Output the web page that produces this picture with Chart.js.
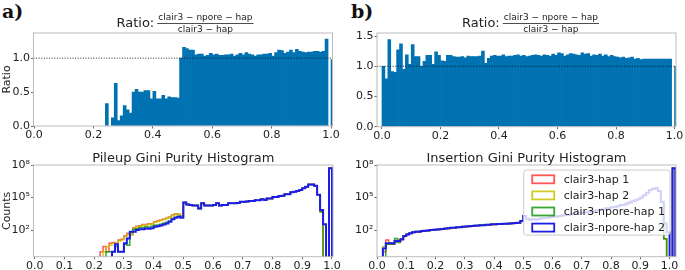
<!DOCTYPE html>
<html>
<head>
<meta charset="utf-8">
<script src="https://cdn.jsdelivr.net/npm/chart.js@4.4.1/dist/chart.umd.min.js"></script>
<style>
  html, body { margin: 0; padding: 0; background: #fff; }
  body { width: 685px; height: 270px; position: relative; overflow: hidden; }
  .panel { position: absolute; }
  .tag { position: absolute; font-family: 'DejaVu Serif', serif; font-weight: bold; font-size: 19px; color: #111; line-height: 1; }
</style>
</head>
<body>
<div class="tag" style="left:2px;top:2px">a)</div>
<div class="tag" style="left:351px;top:2px">b)</div>
<div class="panel" style="left:0;top:0;width:345px;height:140px"><canvas id="ratioA"></canvas></div>
<div class="panel" style="left:345px;top:0;width:340px;height:140px"><canvas id="ratioB"></canvas></div>
<div class="panel" style="left:0;top:140px;width:345px;height:130px"><canvas id="histA"></canvas></div>
<div class="panel" style="left:345px;top:140px;width:340px;height:130px"><canvas id="histB"></canvas></div>
<script>
// ---- data ----
const BIN_WIDTH = 0.01;
const RATIO_X_TICKS = [0, 0.2, 0.4, 0.6, 0.8, 1.0];
const HIST_X_TICKS = [0, 0.1, 0.2, 0.3, 0.4, 0.5, 0.6, 0.7, 0.8, 0.9, 1.0];
const RATIO_A_Y_TICKS = [0, 0.5, 1.0];
const RATIO_B_Y_TICKS = [0, 0.5, 1.0, 1.5];
const COUNT_TICKS = [1e2, 1e5, 1e8];
const REF_LEVEL = 1.0;
const SERIES_LABELS = ['clair3-hap 1', 'clair3-hap 2', 'clair3-npore-hap 1', 'clair3-npore-hap 2'];

// ratio clair3-npore-hap / clair3-hap, one value per 0.01 bin (0.00 .. 1.00)
const ratioPileup = [
  null, null, null, null, null, null, null, null, null, null,
  null, null, null, null, null, null, null, null, null, null,
  null, null, null, null,
  0.33, null, 0.12, 0.63, 0.08, 0.15, 0.30, 0.24, 0.19, 0.50,
  0.54, 0.50, 0.50, 0.52, 0.52, 0.40, 0.51, 0.40, 0.40, 0.45,
  0.40, 0.43, 0.42, 0.42, 0.41, 1.00, 1.16, 1.14, 1.12, 1.12,
  1.05, 1.06, 1.06, 1.03, 1.04, 1.07, 1.05, 1.06, 1.04, 1.04,
  1.05, 1.05, 1.06, 1.03, 1.05, 1.07, 1.05, 1.08, 1.06, 1.05,
  1.03, 1.05, 1.05, 1.06, 1.06, 1.07, 1.03, 1.08, 1.12, 1.11,
  1.07, 1.09, 1.12, 1.08, 1.13, 1.10, 1.09, 1.08, 1.09, 1.09,
  1.10, 1.10, 1.09, 1.10, 1.28, null, 0.98
];
const ratioInsertion = [
  1.00, 0.79, 1.44, 0.91, 0.90, 1.27, 1.37, 0.95, 1.19, 1.03,
  1.36, 1.16, 1.16, 1.00, 1.08, 1.18, 1.18, 1.03, 1.24, 1.18,
  1.09, 1.08, 1.18, 1.18, 1.16, 1.15, 1.15, 1.16, 1.14, 1.17,
  1.16, 1.16, 1.16, 1.17, 1.25, 1.05, 1.13, 1.17, 1.18, 1.17,
  1.17, 1.19, 1.16, 1.17, 1.17, 1.18, 1.19, 1.17, 1.18, 1.16,
  1.17, 1.18, 1.19, 1.18, 1.17, 1.19, 1.18, 1.17, 1.20, 1.18,
  1.22, 1.21, 1.17, 1.19, 1.21, 1.20, 1.19, 1.18, 1.22, 1.20,
  1.21, 1.17, 1.19, 1.18, 1.20, 1.17, 1.19, 1.16, 1.18, 1.16,
  1.15, 1.14, 1.15, 1.13, 1.14, 1.15, 1.12, 1.13, 1.11, 1.12,
  1.12, 1.12, 1.12, 1.12, 1.12, 1.12, 1.12, 1.12, 1.12, null,
  1.00
];

// pileup gini purity counts, bins 0.00 .. 0.99
const pileupLowHap1 = [
  0, 0, 0, 0, 0, 0, 0, 0, 0, 0, 0, 0, 0, 0, 0, 0, 0, 0, 0, 0, 0, 0,
  1, 3, 1, 6, 7, 6, 12, 14, 30, 50, 40, 160, 220, 250, 330, 330, 380, 380,
  590, 680, 830, 1000, 1200, 1600, 2400, 3200, 2800, 2100
];
const pileupLowHap2 = [
  0, 0, 0, 0, 0, 0, 0, 0, 0, 0, 0, 0, 0, 0, 0, 0, 0, 0, 0, 0, 0, 0, 0,
  1, 3, 4, 6, 5, 10, 12, 25, 40, 35, 140, 200, 230, 300, 300, 350, 360,
  550, 620, 780, 950, 1150, 1500, 2200, 3000, 2700, 2000
];
const pileupLowNpore1 = [
  0, 0, 0, 0, 0, 0, 0, 0, 0, 0, 0, 0, 0, 0, 0, 0, 0, 0, 0, 0, 0, 0, 0, 0,
  1, 1, 1, 3, 1, 1, 5, 4, 60, 110, 130, 160, 170, 200, 190, 220,
  280, 300, 350, 420, 520, 700, 1100, 1500, 1900, 1500
];
const pileupLowNpore2 = [
  0, 0, 0, 0, 0, 0, 0, 0, 0, 0, 0, 0, 0, 0, 0, 0, 0, 0, 0, 0, 0, 0, 0, 0, 0, 0,
  1, 5, 1, 1, 6, 17, 70, 70, 100, 120, 120, 140, 130, 150,
  200, 220, 260, 320, 400, 600, 1000, 1400, 1700, 1400
];
const pileupUpper = [
  35000, 23000, 20000, 18000, 18000, 10000, 29000, 18000, 18000, 18000,
  20000, 29000, 18000, 20000, 20000, 29000, 29000, 29000, 32000, 40000,
  40000, 42000, 48000, 48000, 55000, 55000, 68000, 60000, 83000, 83000,
  112000, 112000, 138000, 148000, 200000, 200000, 300000, 350000, 400000, 500000,
  700000, 1000000, 1600000, 1600000, 1250000, 180000
];
const pileupTailHap = [5000, 0, 0, 50000000];
const pileupTailNpore2 = [7000, 350, 0, 50000000];

// insertion gini purity counts, bins 0.00 .. 1.01
const insLowHap1 = [
  0, 0, 1, 12, 6, 5, 8, 12, 13, 25, 38, 48, 60, 66, 72, 76, 82, 86, 95, 100,
  106, 112, 118, 130, 140, 150, 158, 170, 178, 195, 200, 215, 222, 245, 250, 268, 275, 292, 300, 322,
  330, 345, 350, 372, 380, 395, 410, 435, 450, 680
];
const insLowHap2 = [
  0, 0, 3, 5, 6, 6, 9, 11, 14, 27, 40, 50, 62, 68, 72, 78, 84, 88, 98, 103,
  110, 118, 122, 135, 143, 156, 160, 176, 183, 200, 206, 222, 228, 250, 256, 274, 281, 300, 308, 330,
  338, 352, 356, 380, 388, 404, 418, 444, 456, 690
];
const insLowNpore1 = [
  0, 0, 0, 5, 5, 5, 17, 7, 14, 30, 42, 52, 66, 72, 75, 82, 88, 92, 104, 108,
  115, 122, 128, 140, 150, 162, 168, 184, 190, 208, 214, 230, 236, 258, 265, 282, 290, 310, 318, 340,
  346, 362, 366, 390, 398, 414, 428, 455, 470, 720
];
const insLowNpore2 = [
  0, 0, 2, 6, 6, 6, 10, 10, 14, 28, 40, 50, 63, 70, 70, 80, 85, 90, 100, 105,
  112, 120, 124, 138, 145, 160, 163, 180, 186, 204, 210, 226, 232, 255, 260, 278, 285, 305, 312, 335,
  342, 358, 360, 385, 392, 410, 422, 450, 462, 700
];
const insUpper = [
  2000, 1100, 900, 1000, 950, 1100, 1250, 1300, 1400, 1600,
  1800, 1750, 2000, 2200, 2400, 2500, 2800, 3200, 3300, 3500,
  4000, 4200, 5000, 5200, 6000, 6300, 7000, 8000, 10000, 11000,
  12500, 14000, 16000, 20000, 22000, 28000, 35000, 45000, 56000, 70000,
  100000, 160000, 280000, 500000, 630000, 700000, 400000, 40000
];
const insTailHap = [16, 0, 0, 50000000];
const insTailNpore2 = [400, 63, 0, 50000000];

const pileupHap1 = [...pileupLowHap1, ...pileupUpper, ...pileupTailHap];
const pileupHap2 = [...pileupLowHap2, ...pileupUpper, ...pileupTailHap];
const pileupNpore1 = [...pileupLowNpore1, ...pileupUpper, ...pileupTailHap];
const pileupNpore2 = [...pileupLowNpore2, ...pileupUpper, ...pileupTailNpore2];
const insHap1 = [...insLowHap1, ...insUpper, ...insTailHap];
const insHap2 = [...insLowHap2, ...insUpper, ...insTailHap];
const insNpore1 = [...insLowNpore1, ...insUpper, ...insTailHap];
const insNpore2 = [...insLowNpore2, ...insUpper, ...insTailNpore2];

// ---- style ----
const FONT = 'DejaVu Sans';
const INK = '#222';
const BAR_BLUE = '#0072b2';
const FRAME = '#bcbcbc';
const LINE_COLORS = ['rgba(255,30,30,0.75)', 'rgba(200,195,0,0.85)', 'rgba(20,150,20,0.85)', '#1c1ce6'];
const LINE_WIDTHS = [1.5, 1.5, 1.5, 2];
const COUNT_FLOOR = 1e-3; // empty bins drop below the axis
const SUP = { 2: '\u00b2', 5: '\u2075', 8: '\u2078' };

Chart.defaults.font.family = FONT;
Chart.defaults.color = INK;

function barPoints(values) {
  return values.map((v, i) => ({ x: (i + 0.5) * BIN_WIDTH, y: v }));
}

function stepPoints(counts) {
  const pts = counts.map((c, i) => ({ x: i * BIN_WIDTH, y: c > 0 ? c : COUNT_FLOOR }));
  pts.push({ x: counts.length * BIN_WIDTH, y: COUNT_FLOOR });
  return pts;
}

function stepSets(seriesList) {
  return seriesList.map((counts, i) => ({
    label: SERIES_LABELS[i],
    data: stepPoints(counts),
    borderColor: LINE_COLORS[i],
    borderWidth: LINE_WIDTHS[i],
    stepped: true,
    pointRadius: 0,
    fill: false,
    clip: 0,
    order: seriesList.length - i
  }));
}

function tickGrid() {
  return { display: true, drawOnChartArea: false, drawTicks: true, tickLength: 2.5, tickColor: '#444', tickWidth: 0.8, offset: false };
}

function xAxis(min, max, ticks, height) {
  return {
    type: 'linear', min, max, offset: false,
    afterBuildTicks: s => { s.ticks = ticks.map(v => ({ value: v })); },
    afterFit: s => { s.height = height; },
    grid: tickGrid(),
    border: { display: false },
    ticks: { autoSkip: false, maxRotation: 0, padding: 0, color: INK, font: { size: 11 }, callback: v => v.toFixed(1) }
  };
}

function ratioAxis(max, ticks, width, title) {
  return {
    type: 'linear', min: 0, max,
    afterBuildTicks: s => { s.ticks = ticks.map(v => ({ value: v })); },
    afterFit: s => { s.width = width; },
    grid: tickGrid(),
    border: { display: false },
    title: { display: !!title, text: title, color: INK, font: { size: 11 }, padding: { top: 1, bottom: 0 } },
    ticks: { padding: 1, color: INK, font: { size: 11 }, callback: v => v.toFixed(1) }
  };
}

function countAxis(width, title) {
  return {
    type: 'logarithmic', min: 0.35, max: 1e8,
    afterBuildTicks: s => { s.ticks = COUNT_TICKS.map(v => ({ value: v })); },
    afterFit: s => { s.width = width; },
    grid: tickGrid(),
    border: { display: false },
    title: { display: !!title, text: title, color: INK, font: { size: 11 }, padding: { top: 1, bottom: 0 } },
    ticks: { padding: 1, color: INK, font: { size: 11 }, callback: v => '10' + SUP[Math.round(Math.log10(v))] }
  };
}

// ---- plugins ----
const framePlugin = {
  id: 'frame',
  afterDraw(chart) {
    const { ctx, chartArea: a } = chart;
    ctx.save();
    ctx.strokeStyle = FRAME;
    ctx.lineWidth = 1;
    ctx.strokeRect(a.left, a.top, a.right - a.left, a.bottom - a.top);
    ctx.restore();
  }
};

const refLinePlugin = {
  id: 'refLine',
  afterDatasetsDraw(chart, args, opts) {
    if (opts.value == null) return;
    const { ctx, chartArea: a } = chart;
    const y = chart.scales.y.getPixelForValue(opts.value);
    ctx.save();
    ctx.strokeStyle = '#111';
    ctx.lineWidth = 0.9;
    ctx.setLineDash([1, 1.6]);
    ctx.beginPath();
    ctx.moveTo(a.left, y);
    ctx.lineTo(a.right, y);
    ctx.stroke();
    ctx.restore();
  }
};

const fracTitlePlugin = {
  id: 'fracTitle',
  afterDraw(chart, args, o) {
    if (!o.lead) return;
    const { ctx, chartArea: a } = chart;
    ctx.save();
    ctx.fillStyle = INK;
    ctx.textBaseline = 'alphabetic';
    ctx.font = `13px ${FONT}`;
    const wl = ctx.measureText(o.lead).width;
    ctx.font = `9px ${FONT}`;
    const wf = Math.max(ctx.measureText(o.num).width, ctx.measureText(o.den).width) + 2;
    const gap = 3;
    const x0 = (a.left + a.right) / 2 + (o.shift || 0) - (wl + gap + wf) / 2;
    ctx.font = `13px ${FONT}`;
    ctx.textAlign = 'left';
    ctx.fillText(o.lead, x0, a.top - 6);
    const fx = x0 + wl + gap;
    ctx.font = `9px ${FONT}`;
    ctx.textAlign = 'center';
    ctx.fillText(o.num, fx + wf / 2, a.top - 13.5);
    ctx.fillText(o.den, fx + wf / 2, a.top - 1.5);
    ctx.fillRect(fx, a.top - 10, wf, 0.8);
    ctx.restore();
  }
};

const histTitlePlugin = {
  id: 'histTitle',
  afterDraw(chart, args, o) {
    if (!o.text) return;
    const { ctx, chartArea: a } = chart;
    ctx.save();
    ctx.fillStyle = INK;
    ctx.font = `13px ${FONT}`;
    ctx.textAlign = 'center';
    ctx.textBaseline = 'alphabetic';
    ctx.fillText(o.text, (a.left + a.right) / 2, a.top - 3);
    ctx.restore();
  }
};

const boxLegendPlugin = {
  id: 'boxLegend',
  afterDraw(chart, args, o) {
    if (!o.show) return;
    const { ctx, chartArea: a } = chart;
    const sets = chart.data.datasets;
    ctx.save();
    ctx.font = `11px ${FONT}`;
    const textW = Math.max(...sets.map(d => ctx.measureText(d.label).width));
    const padL = 8.5, patchW = 22, patchH = 8, gap = 9.5, padR = 5, rowH = 16.1;
    const w = padL + patchW + gap + textW + padR;
    const h = 9.3 + rowH * (sets.length - 1) + 7.5;
    const x = a.right - 6 - w, y = a.top + 5;
    ctx.beginPath();
    ctx.roundRect(x, y, w, h, 3);
    ctx.fillStyle = 'rgba(255,255,255,0.8)';
    ctx.fill();
    ctx.strokeStyle = '#cccccc';
    ctx.lineWidth = 1;
    ctx.stroke();
    sets.forEach((d, i) => {
      const cy = y + 9.3 + rowH * i;
      ctx.strokeStyle = d.borderColor;
      ctx.lineWidth = 1.8;
      ctx.strokeRect(x + padL, cy - patchH / 2, patchW, patchH);
      ctx.fillStyle = INK;
      ctx.textAlign = 'left';
      ctx.textBaseline = 'middle';
      ctx.fillText(d.label, x + padL + patchW + gap, cy + 0.5);
    });
    ctx.restore();
  }
};

const PLUGINS = [framePlugin, refLinePlugin, fracTitlePlugin, histTitlePlugin, boxLegendPlugin];
const FRACTION = { lead: 'Ratio:', num: 'clair3 \u2212 npore \u2212 hap', den: 'clair3 \u2212 hap' };

function baseOptions(padding, x, y, extra) {
  return {
    responsive: true,
    maintainAspectRatio: false,
    animation: false,
    events: [],
    layout: { padding },
    scales: { x, y },
    plugins: Object.assign({ legend: { display: false }, tooltip: { enabled: false }, title: { display: false } }, extra)
  };
}

function barDataset(values) {
  return {
    data: barPoints(values),
    backgroundColor: BAR_BLUE,
    borderWidth: 0,
    barPercentage: 1,
    categoryPercentage: 1,
    grouped: false
  };
}

new Chart(document.getElementById('ratioA'), {
  type: 'bar',
  data: { datasets: [barDataset(ratioPileup)] },
  options: baseOptions(
    { left: 0, right: 12.5, top: 33, bottom: 0 },
    xAxis(-0.002, 1.005, RATIO_X_TICKS, 14),
    ratioAxis(1.37, RATIO_A_Y_TICKS, 33.5, 'Ratio'),
    { refLine: { value: REF_LEVEL }, fracTitle: Object.assign({ shift: 2 }, FRACTION) }
  ),
  plugins: PLUGINS
});

new Chart(document.getElementById('ratioB'), {
  type: 'bar',
  data: { datasets: [barDataset(ratioInsertion)] },
  options: baseOptions(
    { left: 0, right: 9, top: 33, bottom: 0 },
    xAxis(-0.017, 1.005, RATIO_X_TICKS, 13.3),
    ratioAxis(1.55, RATIO_B_Y_TICKS, 32, ''),
    { refLine: { value: REF_LEVEL }, fracTitle: Object.assign({ shift: 4 }, FRACTION) }
  ),
  plugins: PLUGINS
});

new Chart(document.getElementById('histA'), {
  type: 'line',
  data: { datasets: stepSets([pileupHap1, pileupHap2, pileupNpore1, pileupNpore2]) },
  options: baseOptions(
    { left: 0, right: 12, top: 25, bottom: 0 },
    xAxis(-0.004, 1.0034, HIST_X_TICKS, 13.3),
    countAxis(33.5, 'Counts'),
    { histTitle: { text: 'Pileup Gini Purity Histogram' } }
  ),
  plugins: PLUGINS
});

new Chart(document.getElementById('histB'), {
  type: 'line',
  data: { datasets: stepSets([insHap1, insHap2, insNpore1, insNpore2]) },
  options: baseOptions(
    { left: 0, right: 9, top: 25, bottom: 0 },
    xAxis(0, 1.022, HIST_X_TICKS, 13.3),
    countAxis(32, ''),
    { histTitle: { text: 'Insertion Gini Purity Histogram' }, boxLegend: { show: true } }
  ),
  plugins: PLUGINS
});
</script>
</body>
</html>
